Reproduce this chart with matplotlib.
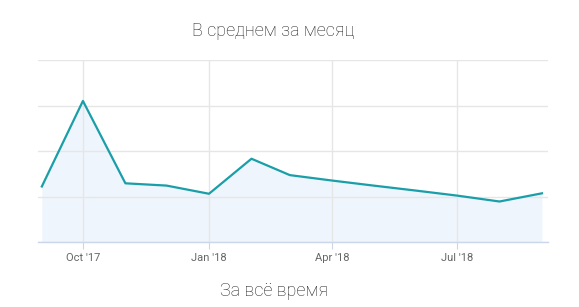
import numpy as np
import matplotlib.pyplot as plt
import matplotlib.dates as mdates
import pandas as pd

plt.rcParams['font.family'] = ['Roboto', 'DejaVu Sans']

months = pd.date_range("2017-09-01", "2018-09-01", freq="MS")
values = [12.2, 31.0, 12.9, 12.4, 10.6, 18.3, 14.7, 13.5, 12.4, 11.3, 10.2, 8.9, 10.7]

tick_dates = pd.to_datetime(["2017-10-01", "2018-01-01", "2018-04-01", "2018-07-01"])
tick_labels = ["Oct '17", "Jan '18", "Apr '18", "Jul '18"]

title = "В среднем за месяц"
footer = "За всё время"

fig = plt.figure(figsize=(5.79, 3.07), dpi=100)
ax = fig.add_axes([38 / 579, 65 / 307, 510 / 579, 182 / 307])

x = mdates.date2num(months)
ax.fill_between(x, 0, values, color="#eef5fd", lw=0, zorder=1)
ax.plot(x, values, color="#1a9ea8", lw=1.6, zorder=3)

ax.set_xlim(mdates.date2num(pd.Timestamp("2017-08-29 05:00")),
            mdates.date2num(pd.Timestamp("2018-09-05 10:00")))
ax.set_ylim(0, 40)
ax.set_yticks([0, 10, 20, 30, 40])
ax.set_xticks(mdates.date2num(tick_dates))
ax.set_xticklabels(tick_labels)

ax.grid(True, color="#e6e6e6", lw=1, zorder=2)
ax.set_axisbelow(False)
for s in ["top", "right", "left"]:
    ax.spines[s].set_visible(False)
ax.spines["bottom"].set_color("#ccd6eb")
ax.spines["bottom"].set_linewidth(1)
ax.spines["bottom"].set_zorder(4)
ax.tick_params(axis="y", left=False, labelleft=False)
ax.tick_params(axis="x", length=5, color="#ccd6eb", labelsize=8, labelcolor="#666666", pad=3)

fig.text(273.5 / 579, 1 - 31 / 307, title, ha="center", va="center",
         fontsize=13, color="#222222", fontweight="light")
fig.text(273.5 / 579, 1 - 291 / 307, footer, ha="center", va="center",
         fontsize=13, color="#222222", fontweight="light")

fig.savefig("out.png", dpi=100)
